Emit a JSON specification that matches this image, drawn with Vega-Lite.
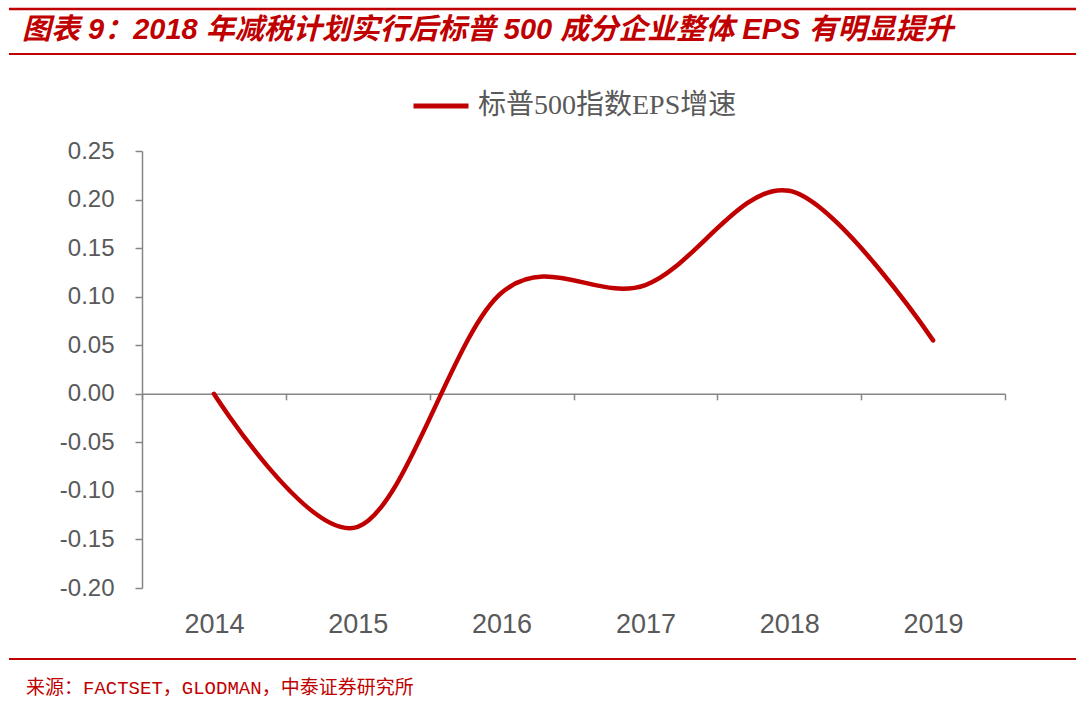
{
  "$schema": "https://vega.github.io/schema/vega-lite/v6.json",
  "background": "white",
  "padding": {"left": 7, "top": 7, "right": 5, "bottom": 5},
  "spacing": 20,
  "resolve": {"scale": {"color": "independent"}, "legend": {"color": "independent"}},
  "config": {
    "view": {"stroke": null},
    "font": "Liberation Sans",
    "locale": {"number": {"decimal": ".", "thousands": ",", "grouping": [3], "currency": ["$", ""], "minus": "-"}},
    "legend": {"layout": {"top": {"anchor": "middle"}}}
  },
  "vconcat": [
    {
      "spacing": 6,
      "vconcat": [
        {
          "width": 1067,
          "height": 1,
          "view": {"stroke": "#C00000", "strokeWidth": 2.5, "strokeDash": [1067, 3000], "fill": null},
          "title": {
            "text": "图表 9：2018 年减税计划实行后标普 500 成分企业整体 EPS 有明显提升",
            "orient": "bottom",
            "anchor": "start",
            "frame": "group",
            "offset": 6,
            "dx": 13,
            "font": "Liberation Sans, Noto Sans CJK SC",
            "fontSize": 29,
            "fontStyle": "italic",
            "fontWeight": "bold",
            "color": "#C00000"
          },
          "data": {"values": []},
          "mark": "rule",
          "encoding": {}
        },
        {
          "width": 1067,
          "height": 1,
          "view": {"stroke": "#C00000", "strokeWidth": 2, "strokeDash": [1067, 3000], "fill": null},
          "data": {"values": []},
          "mark": "rule",
          "encoding": {}
        }
      ]
    },
    {
      "resolve": {"scale": {"color": "independent"}, "legend": {"color": "independent"}},
      "hconcat": [
        {
          "width": 133,
          "height": 1,
          "data": {"values": []},
          "mark": "rule",
          "encoding": {}
        },
        {
          "width": 863,
          "height": 437,
          "data": {
            "values": [
              {"year": "2014", "eps": 0.0},
              {"year": "2015", "eps": -0.137},
              {"year": "2016", "eps": 0.104},
              {"year": "2017", "eps": 0.112},
              {"year": "2018", "eps": 0.209},
              {"year": "2019", "eps": 0.055}
            ]
          },
          "mark": {"type": "line", "interpolate": "cardinal", "strokeWidth": 4.5, "strokeCap": "round"},
          "encoding": {
            "x": {
              "field": "year",
              "type": "ordinal",
              "scale": {"type": "band", "paddingInner": 0, "paddingOuter": 0},
              "axis": {
                "title": null,
                "orient": "bottom",
                "offset": -194.2,
                "tickBand": "extent",
                "tickSize": 6,
                "tickColor": "#868686",
                "domainColor": "#868686",
                "domainWidth": 1.5,
                "tickWidth": 1.5,
                "labelPadding": 212,
                "labelFontSize": 27,
                "labelColor": "#595959",
                "labelAngle": 0,
                "grid": false
              }
            },
            "y": {
              "field": "eps",
              "type": "quantitative",
              "scale": {"domain": [-0.2, 0.25], "nice": false, "zero": false},
              "axis": {
                "title": null,
                "values": [-0.2, -0.15, -0.1, -0.05, 0, 0.05, 0.1, 0.15, 0.2, 0.25],
                "format": ".2f",
                "tickSize": 7,
                "tickColor": "#868686",
                "domainColor": "#868686",
                "domainWidth": 1.5,
                "tickWidth": 1.5,
                "labelPadding": 21,
                "labelFontSize": 24,
                "labelColor": "#595959",
                "grid": false
              }
            },
            "color": {
              "datum": "标普500指数EPS增速",
              "scale": {"range": ["#C00000"]},
              "legend": {
                "title": null,
                "orient": "top",
                "symbolType": "stroke",
                "symbolSize": 3025,
                "symbolStrokeWidth": 5,
                "labelFont": "Liberation Serif, Noto Sans CJK SC",
                "labelFontSize": 28,
                "labelColor": "#595959",
                "labelOffset": 7,
                "labelLimit": 500,
                "padding": 0,
                "offset": 31
              }
            }
          }
        }
      ],
      "spacing": 0,
      "bounds": "flush"
    },
    {
      "width": 1067,
      "height": 1,
      "view": {"stroke": "#C00000", "strokeWidth": 2, "strokeDash": [1067, 3000], "fill": null},
      "title": {
        "text": "来源：FACTSET，GLODMAN，中泰证券研究所",
        "orient": "bottom",
        "anchor": "start",
        "frame": "group",
        "offset": 19,
        "dx": 17,
        "font": "Liberation Mono, Noto Sans CJK SC",
        "fontSize": 19,
        "fontWeight": "normal",
        "color": "#C00000"
      },
      "data": {"values": []},
      "mark": "rule",
      "encoding": {}
    }
  ]
}
